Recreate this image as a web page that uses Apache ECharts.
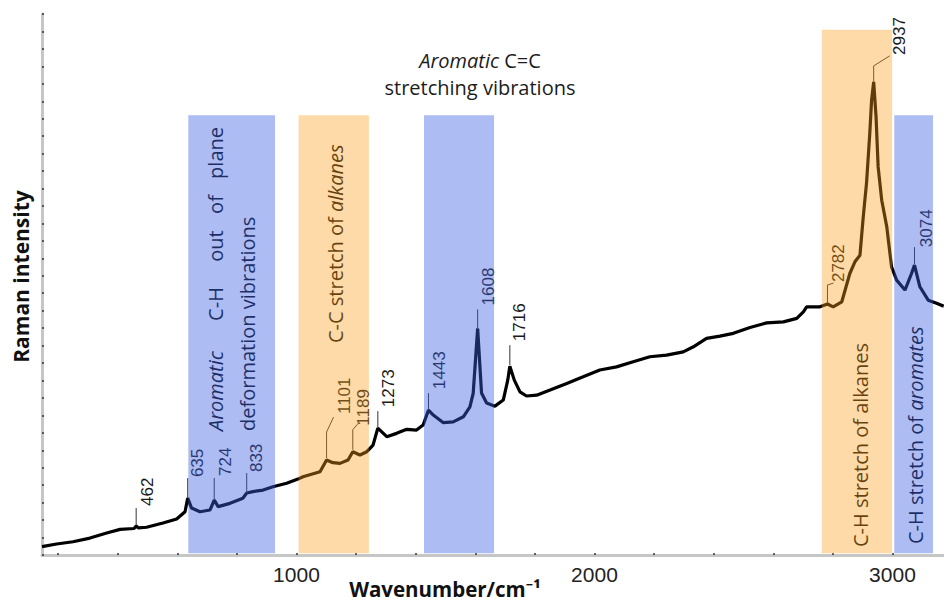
<!DOCTYPE html>
<html><head><meta charset="utf-8">
<script src="https://cdn.jsdelivr.net/npm/echarts@6/dist/echarts.min.js"></script>
<style>html,body{margin:0;padding:0;background:#fff}#c{width:944px;height:601px}</style>
</head><body><div id="c"></div>
<script>
// ---- data ----
const wavenumber = [146,195,250,307,363,408,455,462,470,497,552,598,626,635,648,676,710,724,737,777,820,833,854,888,921,967,1005,1022,1079,1101,1122,1146,1173,1189,1213,1236,1257,1273,1303,1336,1370,1403,1425,1443,1459,1493,1526,1560,1582,1593,1600,1608,1621,1638,1666,1694,1709,1716,1731,1750,1772,1806,1851,1907,1962,2018,2074,2130,2186,2242,2298,2332,2376,2421,2466,2522,2578,2634,2679,2701,2712,2757,2782,2801,2830,2857,2874,2891,2902,2913,2924,2930,2937,2945,2952,2964,2981,2997,3014,3042,3064,3074,3092,3120,3148,3172];
const intensity = [0.48,0.63,0.76,0.97,1.26,1.47,1.52,1.66,1.55,1.59,1.83,2.06,2.48,3.26,2.69,2.48,2.58,3.15,2.77,2.96,3.25,3.55,3.63,3.72,3.91,4.11,4.35,4.48,4.77,5.44,5.29,5.25,5.44,5.92,5.73,5.92,6.3,7.27,6.78,6.97,7.2,7.16,7.45,8.3,8.02,7.58,7.63,7.92,8.49,9.26,11.0,12.98,9.28,8.71,8.53,8.88,10.02,10.82,10.02,9.35,9.11,9.16,9.45,9.83,10.21,10.6,10.78,11.07,11.36,11.45,11.64,11.93,12.41,12.54,12.7,13.04,13.3,13.36,13.56,13.93,14.22,14.22,14.38,14.22,14.51,16.13,16.8,17.18,19.38,21.31,24.17,26.06,27.11,25.1,22.24,20.33,18.8,16.51,15.75,15.18,16.13,16.61,15.37,14.6,14.42,14.26];
const peakWavenumbers = [462,635,724,833,1101,1189,1273,1443,1608,1716,2782,2937,3074];
const bandStart = [637,1007,1428,2763,3006];
const bandEnd   = [928,1243,1663,2999,3136];
const bandTop   = [25.2,25.2,25.2,30.1,25.2];
const bandKind  = ['aromatic','alkane','aromatic','alkane','aromatic'];
const xTickValues = [200,400,600,800,1000,1200,1400,1600,1800,2000,2200,2400,2600,2800,3000];
const xLabelValues = [1000,2000,3000];

// ---- layout / style ----
const bandColor = {aromatic:'rgba(60,95,226,0.42)', alkane:'rgba(250,158,26,0.38)'};
const leaderLayout = {
  462:{gap:1,l:17,dx:0,dy:0,tx:11,ty:-2},
  635:{gap:0,l:20,dx:0,dy:0,tx:10,ty:-1},
  724:{gap:0,l:22,dx:0,dy:0,tx:11,ty:-2},
  833:{gap:0,l:20,dx:0,dy:0,tx:10,ty:-1},
  1101:{gap:2,l:26,dx:7,dy:-15,tx:11,ty:-3},
  1189:{gap:2,l:20,dx:6,dy:-7,tx:5,ty:3},
  1273:{gap:1,l:16,dx:0,dy:0,tx:11,ty:-4},
  1443:{gap:1,l:16,dx:0,dy:0,tx:11,ty:-4},
  1608:{gap:0,l:19,dx:0,dy:0,tx:11,ty:-4},
  1716:{gap:1,l:20,dx:0,dy:0,tx:10,ty:-4},
  2782:{gap:1,l:18,dx:6,dy:-2,tx:5,ty:-1},
  2937:{gap:0,l:16,dx:16,dy:-10,tx:10,ty:-1},
  3074:{gap:1,l:17,dx:0,dy:0,tx:12,ty:0}
};

const lineData = wavenumber.map((w,i)=>[w,intensity[i]]);
const peakData = peakWavenumbers.map(w=>[w,intensity[wavenumber.indexOf(w)]]);
const markAreaData = bandStart.map((s,i)=>[
  {xAxis:s, yAxis:0.1, itemStyle:{color:bandColor[bandKind[i]]}},
  {xAxis:bandEnd[i], yAxis:bandTop[i]}
]);

const SANS = '"Open Sans", "Noto Sans", sans-serif';
const ARI = '"Liberation Sans", Arial, sans-serif';
const TXT = '#0a0a0a';
function vtext(x, y, text, align){
  return {type:'text', x:x, y:y, rotation:Math.PI/2, z:1, silent:true,
    style:{text:text, fontFamily:SANS, fontSize:20, fill:TXT, align:align||'left', verticalAlign:'middle',
      rich:{i:{fontFamily:SANS, fontSize:20, fontStyle:'italic', fill:TXT}}}};
}

const chart = echarts.init(document.getElementById('c'), null, {renderer:'svg'});
chart.setOption({
  animation:false,
  backgroundColor:'#fff',
  grid:{left:42, right:0, top:14, bottom:46, outerBoundsMode:'none'},
  xAxis:{type:'value', min:146, max:3173, offset:2,
    axisLine:{show:true, lineStyle:{color:'#c6c6c6', width:3}},
    axisTick:{show:true, customValues:xTickValues, length:2, inside:true, lineStyle:{color:'#333', width:1.5}},
    axisLabel:{show:true, customValues:xLabelValues, formatter:v=>String(v), fontFamily:ARI, fontSize:21, color:'#222', margin:7},
    splitLine:{show:false},
    name:'Wavenumber/cm\u207B\u00B9', nameLocation:'middle', nameGap:21, nameMoveOverlap:false,
    nameTextStyle:{fontFamily:SANS, fontWeight:'bold', fontSize:20.5, color:'#111', padding:[0,96,0,0]}
  },
  yAxis:{type:'value', min:0, max:31, interval:1,
    axisLine:{show:true, lineStyle:{color:'#c6c6c6', width:3}},
    axisTick:{show:true, length:2, inside:true, lineStyle:{color:'#333', width:1.5}},
    axisLabel:{show:false}, splitLine:{show:false},
    name:'Raman intensity', nameLocation:'middle', nameGap:11, nameRotate:90, nameMoveOverlap:false,
    nameTextStyle:{fontFamily:SANS, fontWeight:'bold', fontSize:21, color:'#111', padding:[0,0,0,16]}
  },
  graphic:[
    {type:'text', x:480, y:47, z:1, silent:true,
      style:{text:'{i|Aromatic} C=C\nstretching vibrations', fontFamily:SANS, fontSize:20, fill:'#1c1c1c', align:'center', verticalAlign:'top', lineHeight:27,
        rich:{i:{fontFamily:SANS, fontSize:20, fontStyle:'italic', fill:'#1c1c1c', lineHeight:27}}}},
    vtext(215, 431, '{i|Aromatic}', 'left'),
    vtext(215, 304, 'C-H', 'center'),
    vtext(215, 246, 'out', 'center'),
    vtext(215, 204.5, 'of', 'center'),
    vtext(215, 127, 'plane', 'right'),
    vtext(247, 431, 'deformation vibrations', 'left'),
    vtext(335, 343, 'C-C stretch of {i|alkanes}', 'left'),
    vtext(860, 547, 'C-H stretch of alkanes', 'left'),
    vtext(915, 544, 'C-H stretch of {i|aromates}', 'left')
  ],
  series:[
    {type:'line', data:lineData, symbol:'none', z:2, silent:true,
      lineStyle:{color:'#000', width:3.2}},
    {type:'custom', coordinateSystem:'cartesian2d', data:peakData, z:5, silent:true, clip:false,
      renderItem:function(params, api){
        const w = api.value(0), v = api.value(1);
        const p = api.coord([w, v]);
        const g = leaderLayout[w];
        const x0 = p[0], y0 = p[1]-g.gap, y1 = y0-g.l;
        const x2 = x0+g.dx, y2 = y1+g.dy;
        return {type:'group', children:[
          {type:'polyline', shape:{points:[[x0,y0],[x0,y1],[x2,y2]]}, style:{stroke:'#333', lineWidth:1, fill:null}},
          {type:'text', x:x2+g.tx, y:y2+g.ty, rotation:Math.PI/2,
            style:{text:String(w), fontFamily:ARI, fontSize:17, fill:'#1a1a1a', align:'left', verticalAlign:'middle'}}
        ]};
      }},
    {type:'line', data:[], z:20, silent:true,
      markArea:{silent:true, z:30, data:markAreaData}}
  ]
});
</script></body></html>
